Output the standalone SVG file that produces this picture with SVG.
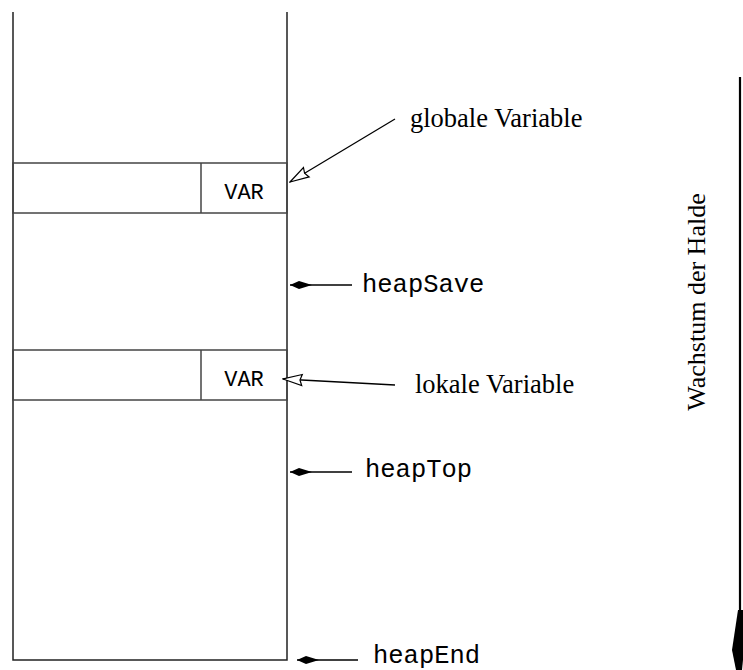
<svg xmlns="http://www.w3.org/2000/svg" width="743" height="670" viewBox="0 0 743 670">
<style>
.col{fill:none;stroke:#222;stroke-width:1.5}
.box{fill:none;stroke:#444;stroke-width:1.5}
.mono{font-family:"Liberation Mono","Courier New",monospace;fill:#000}
.serif{font-family:"Liberation Serif","Times New Roman",serif;fill:#000}
.ptr{stroke:#000;stroke-width:1.3;fill:none}
</style>
<defs>
<marker id="fill" viewBox="0 0 22 10" refX="22" refY="5" markerWidth="22" markerHeight="10" markerUnits="userSpaceOnUse" orient="auto">
<path d="M0,5 L13,1 L22,5 L13,9 Z" fill="#000"/>
</marker>
<marker id="open" viewBox="0 0 22 14" refX="21" refY="7" markerWidth="22" markerHeight="14" markerUnits="userSpaceOnUse" orient="auto">
<path d="M21,7 L2,1.5 L4,7 L2,12.5 Z" fill="#fff" stroke="#000" stroke-width="1.2"/>
</marker>
</defs>
<g id="heap">
<path class="col" d="M13,12 V660 H287 V12"/>
</g>
<g id="var-global">
<rect class="box" x="13" y="163" width="274" height="50"/>
<line class="box" x1="201" y1="163" x2="201" y2="213"/>
<text class="mono" x="244" y="199" font-size="22" text-anchor="middle">VAR</text>
</g>
<g id="var-local">
<rect class="box" x="13" y="350" width="274" height="50"/>
<line class="box" x1="201" y1="350" x2="201" y2="400"/>
<text class="mono" x="244" y="386" font-size="22" text-anchor="middle">VAR</text>
</g>
<g id="label-global"><text class="serif" x="410" y="127" font-size="26.5">globale Variable</text></g>
<g id="label-local"><text class="serif" x="415" y="393" font-size="26.5">lokale Variable</text></g>
<g id="heapSave"><text class="mono" x="362" y="292" font-size="25.5">heapSave</text></g>
<g id="heapTop"><text class="mono" x="365" y="477" font-size="25.5">heapTop</text></g>
<g id="heapEnd"><text class="mono" x="373" y="663" font-size="25.5">heapEnd</text></g>
<g id="growth">
<text class="serif" transform="translate(705,302) rotate(-90)" font-size="26" text-anchor="middle">Wachstum der Halde</text>
</g>
<g id="connectors">
<line class="ptr" x1="395" y1="119" x2="290" y2="182" marker-end="url(#open)"/>
<line class="ptr" x1="395" y1="385" x2="283" y2="379" marker-end="url(#open)"/>
<line class="ptr" x1="352" y1="285" x2="290" y2="285" marker-end="url(#fill)"/>
<line class="ptr" x1="352" y1="472" x2="290" y2="472" marker-end="url(#fill)"/>
<line class="ptr" x1="358" y1="660" x2="297" y2="660" marker-end="url(#fill)"/>
<line x1="740" y1="77" x2="740" y2="615" stroke="#000" stroke-width="2.2"/>
<polygon points="738,610 732,650 740,690 748,610" fill="#000"/>
</g>
</svg>
